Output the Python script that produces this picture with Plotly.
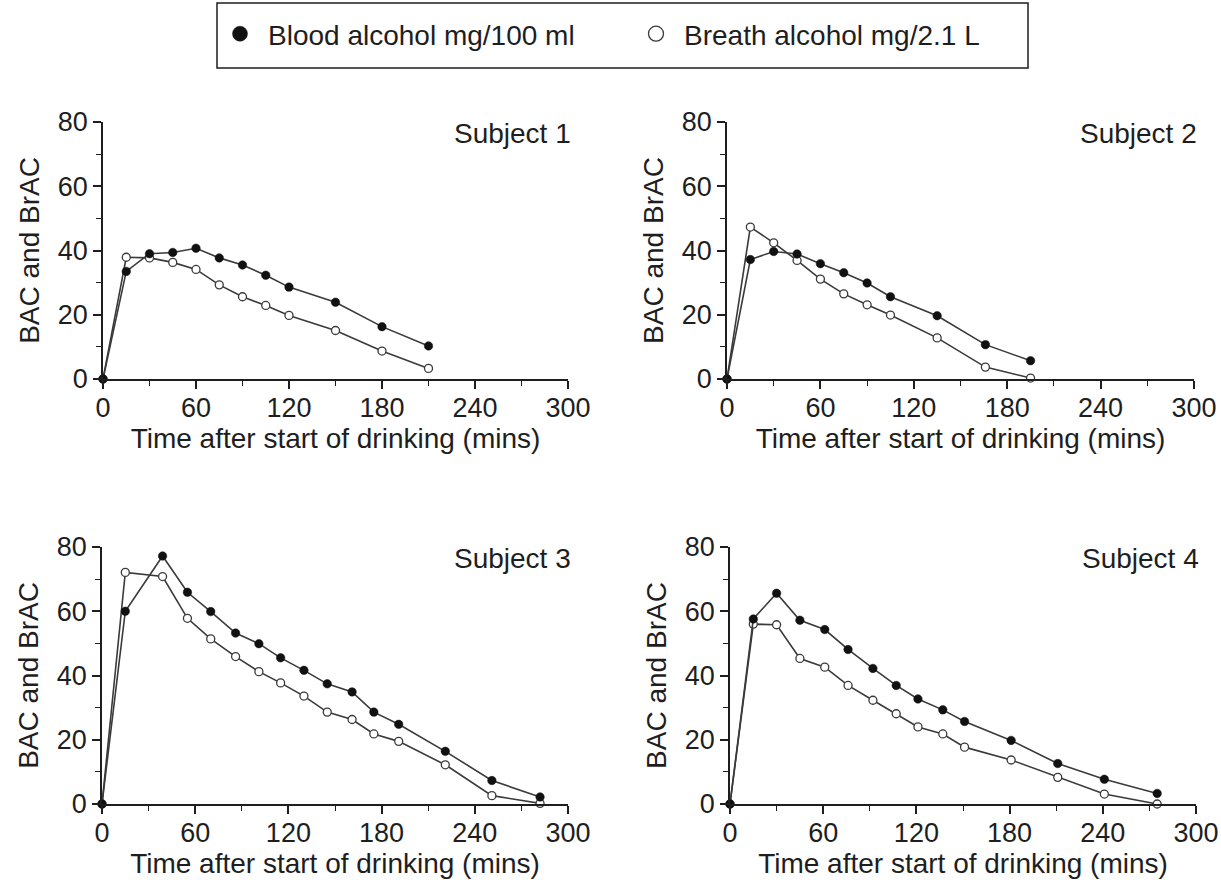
import plotly.graph_objects as go

# ---------------- data ----------------
s1_time = [0, 15, 30, 45, 60, 75, 90, 105, 120, 150, 180, 210]
s1_blood = [0, 33.5, 39.0, 39.4, 40.7, 37.7, 35.5, 32.3, 28.6, 23.9, 16.3, 10.3]
s1_breath = [0, 37.9, 37.7, 36.3, 34.1, 29.3, 25.6, 22.9, 19.8, 15.1, 8.7, 3.3]

s2_time = [0, 15, 30, 45, 60, 75, 90, 105, 135, 166, 195]
s2_blood = [0, 37.2, 39.7, 38.9, 35.9, 33.1, 29.9, 25.6, 19.7, 10.7, 5.7]
s2_breath = [0, 47.3, 42.4, 36.9, 31.1, 26.5, 23.1, 19.9, 12.8, 3.7, 0.3]

s3_time = [0, 15, 39, 55, 70, 86, 101, 115, 130, 145, 161, 175, 191, 221, 251, 282]
s3_blood = [0, 60.0, 77.2, 65.9, 59.9, 53.2, 49.9, 45.5, 41.6, 37.4, 34.9, 28.6, 24.8, 16.4, 7.3, 2.2]
s3_breath = [0, 72.1, 70.8, 57.8, 51.4, 45.9, 41.2, 37.7, 33.6, 28.6, 26.3, 21.8, 19.5, 12.2, 2.6, 0.2]

s4_time = [0, 15, 30, 45, 61, 76, 92, 107, 121, 137, 151, 181, 211, 241, 275]
s4_blood = [0, 57.6, 65.6, 57.2, 54.3, 48.1, 42.2, 36.9, 32.7, 29.3, 25.7, 19.8, 12.6, 7.7, 3.3]
s4_breath = [0, 56.0, 55.8, 45.3, 42.6, 36.9, 32.3, 28.1, 24.0, 21.8, 17.7, 13.7, 8.3, 3.1, 0.0]

subject_labels = ["Subject 1", "Subject 2", "Subject 3", "Subject 4"]
series_names = ["Blood alcohol mg/100 ml", "Breath alcohol mg/2.1 L"]
x_ticks = [0, 60, 120, 180, 240, 300]
y_ticks = [0, 20, 40, 60, 80]
x_title = "Time after start of drinking (mins)"
y_title = "BAC and BrAC"

subjects = [
    (s1_time, s1_blood, s1_breath),
    (s2_time, s2_blood, s2_breath),
    (s3_time, s3_blood, s3_breath),
    (s4_time, s4_blood, s4_breath),
]

# ---------------- layout geometry (pixels) ----------------
W, H = 1221, 882
FONT = "Liberation Sans, Arial, Helvetica, sans-serif"
INK = "#1e1e1e"
LINE = "#3a3a3a"

x_pix = [(103, 568), (727, 1194), (102, 568), (730, 1196)]
y_pix = [(122, 379), (122, 379), (547, 804), (547, 804)]

fig = go.Figure()

for i, (t, blood, breath) in enumerate(subjects):
    n = i + 1
    xa = "x" if n == 1 else f"x{n}"
    ya = "y" if n == 1 else f"y{n}"
    fig.add_trace(go.Scatter(
        x=t, y=breath, xaxis=xa, yaxis=ya, mode="lines+markers",
        line=dict(color=LINE, width=1.6),
        marker=dict(symbol="circle", size=8, color="white",
                    line=dict(color=LINE, width=1.3)),
        showlegend=False, cliponaxis=False, name=series_names[1]))
    fig.add_trace(go.Scatter(
        x=t, y=blood, xaxis=xa, yaxis=ya, mode="lines+markers",
        line=dict(color=LINE, width=1.6),
        marker=dict(symbol="circle", size=8.5, color="#111111",
                    line=dict(color="#111111", width=0.5)),
        showlegend=False, cliponaxis=False, name=series_names[0]))

# legend-only entries
fig.add_trace(go.Scatter(x=[None], y=[None], mode="markers", name=series_names[0],
                         marker=dict(size=15, color="#111111",
                                     line=dict(color="#111111", width=0.5))))
fig.add_trace(go.Scatter(x=[None], y=[None], mode="markers", name=series_names[1],
                         marker=dict(size=15, color="white",
                                     line=dict(color=LINE, width=1.3))))

axis_common = dict(
    showline=True, linecolor=INK, linewidth=1.5, mirror=False,
    ticks="outside", ticklen=8, tickwidth=1.5, tickcolor=INK,
    showgrid=False, zeroline=False, automargin=False,
    tickfont=dict(family=FONT, size=27, color=INK),
)

layout_axes = {}
for i in range(4):
    n = i + 1
    xk = "xaxis" if n == 1 else f"xaxis{n}"
    yk = "yaxis" if n == 1 else f"yaxis{n}"
    x0, x1 = x_pix[i]
    y0, y1 = y_pix[i]
    layout_axes[xk] = dict(
        axis_common,
        domain=[x0 / W, x1 / W], range=[0, 300],
        tickmode="array", tickvals=x_ticks, ticklabelstandoff=-4,
        minor=dict(dtick=30, tick0=0, ticks="outside", ticklen=5,
                   tickwidth=1.3, tickcolor=INK),
        anchor="y" if n == 1 else f"y{n}",
        title=dict(text=x_title, font=dict(family=FONT, size=28, color=INK),
                   standoff=2),
    )
    layout_axes[yk] = dict(
        axis_common,
        domain=[1 - y1 / H, 1 - y0 / H], range=[0, 80],
        tickmode="array", tickvals=y_ticks,
        minor=dict(dtick=10, tick0=0, ticks="outside", ticklen=5,
                   tickwidth=1.3, tickcolor=INK),
        anchor="x" if n == 1 else f"x{n}",
        title=dict(text=y_title, font=dict(family=FONT, size=28, color=INK),
                   standoff=10),
    )

annotations = []
for i, lab in enumerate(subject_labels):
    n = i + 1
    annotations.append(dict(
        text=lab, xref=("x" if n == 1 else f"x{n}") + " domain",
        yref=("y" if n == 1 else f"y{n}") + " domain",
        x=1.01, y=0.957, xanchor="right", yanchor="middle", showarrow=False,
        font=dict(family=FONT, size=28, color=INK)))

fig.update_layout(
    width=W, height=H,
    margin=dict(l=0, r=0, t=0, b=0, pad=0, autoexpand=False),
    paper_bgcolor="white", plot_bgcolor="white",
    showlegend=True,
    legend=dict(orientation="h", x=212 / W, y=1 - 34 / H,
                xanchor="left", yanchor="middle",
                itemwidth=46, entrywidth=355,
                font=dict(family=FONT, size=28, color=INK),
                bgcolor="rgba(0,0,0,0)", borderwidth=0),
    shapes=[dict(type="rect", xref="paper", yref="paper",
                 x0=217 / W, x1=1028 / W, y0=1 - 68 / H, y1=1 - 3 / H,
                 line=dict(color=INK, width=1.5), fillcolor="rgba(0,0,0,0)")],
    annotations=annotations,
    **layout_axes,
)

fig.write_html(
    "out.html",
    config={"displayModeBar": False},
    post_script="document.body.style.margin='0';document.body.style.overflow='hidden';",
)
